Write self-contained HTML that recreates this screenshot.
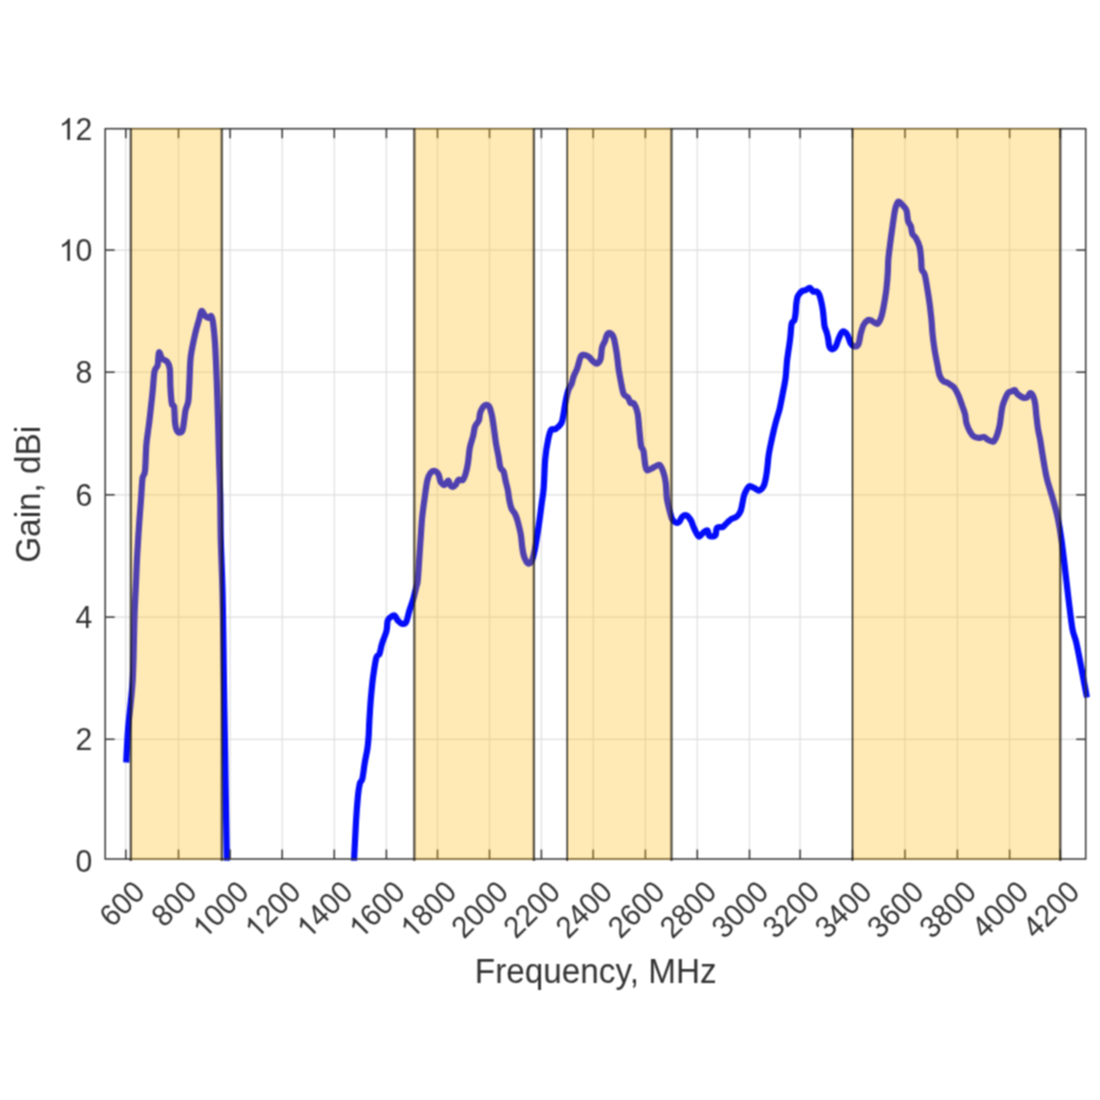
<!DOCTYPE html>
<html lang="en"><head><meta charset="utf-8"><title>Gain vs Frequency</title>
<style>html,body{margin:0;padding:0;background:#fff}body{width:1100px;height:1100px;overflow:hidden}svg{display:block}text{font-family:"Liberation Sans",sans-serif;fill:#333333}</style></head><body>
<svg width="1100" height="1100" viewBox="0 0 1100 1100">
<defs><clipPath id="ax"><rect x="105.2" y="128.7" width="984.5" height="732.0999999999999"/></clipPath><filter id="soft" x="0" y="0" width="100%" height="100%" filterUnits="objectBoundingBox" color-interpolation-filters="sRGB"><feConvolveMatrix order="3" kernelMatrix="1 2 1 2 4 2 1 2 1" divisor="16" edgeMode="duplicate" preserveAlpha="false"/></filter></defs>
<g filter="url(#soft)">
<rect width="1100" height="1100" fill="#ffffff"/>
<g stroke="#dedede" stroke-width="1.2" fill="none">
<line x1="125.8" y1="128.7" x2="125.8" y2="859.0"/>
<line x1="178.5" y1="128.7" x2="178.5" y2="859.0"/>
<line x1="230.1" y1="128.7" x2="230.1" y2="859.0"/>
<line x1="282.2" y1="128.7" x2="282.2" y2="859.0"/>
<line x1="334.3" y1="128.7" x2="334.3" y2="859.0"/>
<line x1="386.4" y1="128.7" x2="386.4" y2="859.0"/>
<line x1="437.5" y1="128.7" x2="437.5" y2="859.0"/>
<line x1="489.5" y1="128.7" x2="489.5" y2="859.0"/>
<line x1="541.4" y1="128.7" x2="541.4" y2="859.0"/>
<line x1="593.2" y1="128.7" x2="593.2" y2="859.0"/>
<line x1="645.4" y1="128.7" x2="645.4" y2="859.0"/>
<line x1="697.3" y1="128.7" x2="697.3" y2="859.0"/>
<line x1="749.5" y1="128.7" x2="749.5" y2="859.0"/>
<line x1="800.1" y1="128.7" x2="800.1" y2="859.0"/>
<line x1="852.5" y1="128.7" x2="852.5" y2="859.0"/>
<line x1="905.0" y1="128.7" x2="905.0" y2="859.0"/>
<line x1="957.4" y1="128.7" x2="957.4" y2="859.0"/>
<line x1="1009.6" y1="128.7" x2="1009.6" y2="859.0"/>
<line x1="1060.3" y1="128.7" x2="1060.3" y2="859.0"/>
<line x1="105.2" y1="250.1" x2="1085.7" y2="250.1"/>
<line x1="105.2" y1="372.2" x2="1085.7" y2="372.2"/>
<line x1="105.2" y1="494.8" x2="1085.7" y2="494.8"/>
<line x1="105.2" y1="617.1" x2="1085.7" y2="617.1"/>
<line x1="105.2" y1="739.3" x2="1085.7" y2="739.3"/>
</g>
<g clip-path="url(#ax)" fill="none" stroke="#040dfa" stroke-width="6.2" stroke-linejoin="round" stroke-linecap="butt">
<path d="M126.2 762.5C126.5 757.1 127.2 740.4 128.0 730.0C128.8 719.6 130.2 708.3 131.0 700.0C131.8 691.7 132.3 687.6 132.7 680.0C133.1 672.4 133.3 665.2 133.6 654.5C133.9 643.8 134.1 628.8 134.5 616.0C134.9 603.2 135.8 588.2 136.2 578.0C136.6 567.8 136.7 564.4 137.2 555.0C137.7 545.6 138.6 531.6 139.3 521.8C140.0 512.0 140.7 503.6 141.2 496.4C141.7 489.2 141.9 482.8 142.5 478.5C143.1 474.2 144.4 476.4 145.0 470.9C145.6 465.4 145.8 452.3 146.3 445.5C146.8 438.7 147.7 434.2 148.2 430.0C148.7 425.8 148.8 426.4 149.5 420.0C150.2 413.6 151.8 399.9 152.6 391.8C153.4 383.7 153.7 376.0 154.5 371.5C155.3 367.0 156.9 368.2 157.7 365.0C158.4 361.8 158.2 353.4 159.0 352.4C159.8 351.3 160.8 357.1 162.2 358.7C163.6 360.3 166.0 360.2 167.3 361.9C168.6 363.6 169.3 364.8 169.8 368.9C170.3 373.0 170.1 380.9 170.4 386.7C170.7 392.5 171.2 400.2 171.8 403.5C172.4 406.8 173.6 404.7 174.0 406.2C174.4 407.7 174.3 409.8 174.5 412.7C174.7 415.6 174.7 420.7 175.1 423.6C175.5 426.5 176.0 428.7 176.7 430.2C177.4 431.7 178.5 432.6 179.5 432.6C180.5 432.6 181.7 432.1 182.5 430.2C183.3 428.2 183.6 424.2 184.1 420.9C184.6 417.6 184.8 413.7 185.5 410.5C186.2 407.3 187.6 405.1 188.2 401.8C188.8 398.5 188.8 394.9 189.0 390.9C189.2 386.9 189.3 383.8 189.6 378.0C189.9 372.2 189.9 363.6 190.8 356.2C191.8 348.8 193.9 339.4 195.3 333.3C196.7 327.2 198.1 323.0 199.1 319.3C200.1 315.6 200.6 311.6 201.6 311.0C202.6 310.4 203.6 314.3 204.8 315.5C206.0 316.7 207.5 317.9 208.6 318.0C209.7 318.1 210.4 315.2 211.2 316.1C211.9 317.0 212.5 318.6 213.1 323.1C213.7 327.6 214.4 333.5 215.0 343.0C215.6 352.5 216.2 367.2 216.7 380.0C217.2 392.8 217.6 407.0 218.0 420.0C218.4 433.0 218.6 445.3 219.0 458.0C219.4 470.7 219.9 482.3 220.2 496.0C220.5 509.7 220.4 524.2 220.8 540.0C221.2 555.8 222.1 574.0 222.5 591.0C222.9 608.0 223.2 627.2 223.4 642.0C223.6 656.8 223.7 664.5 223.9 680.0C224.1 695.5 224.5 718.3 224.8 735.0C225.1 751.7 225.2 758.7 225.5 780.0C225.8 801.3 226.7 849.2 226.9 863.0"/>
<path d="M353.9 863.0C353.9 862.3 353.8 865.6 354.1 858.7C354.5 851.8 355.4 832.2 356.0 821.8C356.6 811.4 357.3 802.8 357.9 796.4C358.5 790.0 359.1 786.6 359.8 783.6C360.6 780.6 361.5 782.1 362.4 778.5C363.2 774.9 364.0 767.1 364.9 762.0C365.8 756.9 366.9 752.5 367.5 748.0C368.1 743.5 368.4 740.0 368.7 735.3C369.0 730.6 369.0 726.8 369.4 720.0C369.8 713.2 370.5 701.9 371.2 694.5C371.9 687.1 372.4 681.6 373.3 675.5C374.2 669.4 375.3 661.2 376.3 657.6C377.3 654.0 378.6 656.1 379.5 653.8C380.4 651.5 380.8 647.4 382.0 643.6C383.2 639.8 385.6 634.7 386.5 630.9C387.4 627.1 387.0 623.0 387.7 620.7C388.4 618.4 389.7 617.8 390.9 616.9C392.1 616.0 393.5 615.0 394.7 615.6C395.9 616.2 396.6 619.3 397.9 620.7C399.2 622.1 401.0 623.7 402.4 623.9C403.8 624.1 405.0 624.2 406.2 622.0C407.4 619.8 408.2 614.3 409.4 610.5C410.6 606.7 412.0 603.1 413.2 599.1C414.4 595.1 415.6 589.6 416.4 586.4C417.2 583.2 417.3 585.5 417.8 580.0C418.3 574.5 419.1 561.2 419.6 553.6C420.1 546.0 420.5 540.6 420.9 534.5C421.3 528.4 421.6 522.8 422.2 517.0C422.8 511.2 423.5 506.1 424.4 500.0C425.2 493.9 426.3 485.0 427.3 480.5C428.3 476.0 429.2 474.5 430.5 472.9C431.8 471.3 433.5 470.7 434.9 471.0C436.3 471.3 437.8 473.0 438.7 474.8C439.6 476.6 439.6 480.1 440.6 481.8C441.6 483.5 443.2 485.2 444.5 485.0C445.8 484.8 447.4 480.5 448.3 480.5C449.2 480.5 449.5 483.9 450.2 485.0C450.9 486.1 451.8 487.0 452.7 486.9C453.6 486.8 454.9 485.6 455.9 484.4C456.9 483.2 457.3 480.6 458.5 479.9C459.7 479.1 461.7 480.8 462.9 479.9C464.1 478.9 464.6 477.1 465.5 474.2C466.4 471.3 467.3 467.1 468.0 462.7C468.7 458.2 469.0 451.9 469.9 447.5C470.8 443.1 472.2 439.5 473.1 436.0C474.0 432.5 474.1 429.1 475.0 426.5C475.9 423.9 477.9 422.9 478.8 420.7C479.7 418.5 479.4 415.4 480.1 413.1C480.9 410.8 482.2 408.1 483.3 406.7C484.4 405.3 485.4 404.7 486.5 404.8C487.6 404.9 488.7 405.4 489.6 407.4C490.6 409.4 491.4 413.2 492.2 416.9C492.9 420.6 493.5 425.2 494.1 429.6C494.7 434.1 495.3 439.1 496.0 443.6C496.7 448.1 497.8 452.4 498.5 456.4C499.2 460.4 499.6 465.3 500.5 467.8C501.4 470.3 502.8 469.5 503.6 471.6C504.4 473.7 504.8 477.4 505.5 480.5C506.2 483.6 507.2 486.9 507.8 490.0C508.4 493.1 508.6 496.2 509.2 499.3C509.8 502.4 510.6 506.4 511.6 508.8C512.6 511.2 514.1 512.0 515.1 514.0C516.1 516.0 516.7 517.6 517.6 521.0C518.5 524.4 520.0 530.3 520.8 534.5C521.5 538.7 521.6 542.4 522.1 546.0C522.6 549.6 523.0 553.3 524.0 556.2C525.0 559.1 526.5 562.4 527.8 563.2C529.1 564.1 530.5 563.1 531.6 561.3C532.7 559.5 533.4 556.2 534.2 552.4C535.1 548.6 535.9 543.5 536.7 538.4C537.6 533.3 538.4 527.8 539.3 521.8C540.1 515.8 541.1 508.3 541.8 502.7C542.5 497.1 543.1 495.4 543.7 488.0C544.3 480.6 544.5 466.3 545.3 458.2C546.0 450.1 547.2 444.0 548.2 439.3C549.2 434.6 549.9 431.5 551.1 429.8C552.3 428.1 553.8 430.2 555.5 429.1C557.2 428.0 559.9 426.0 561.3 423.3C562.7 420.6 563.0 416.7 563.7 413.1C564.4 409.5 564.8 405.4 565.6 401.5C566.4 397.6 567.5 392.7 568.5 389.8C569.5 386.9 570.6 386.2 571.5 384.0C572.4 381.8 572.6 379.4 573.6 376.7C574.6 374.0 576.2 371.1 577.3 368.0C578.4 364.9 579.3 360.0 580.2 357.8C581.1 355.6 581.4 355.1 582.7 354.9C584.0 354.7 586.4 355.3 588.2 356.4C590.0 357.5 591.8 360.3 593.3 361.5C594.8 362.7 595.7 364.0 596.9 363.6C598.1 363.2 599.6 362.0 600.5 359.3C601.4 356.6 601.3 350.6 602.0 347.6C602.7 344.6 604.0 343.3 604.9 341.1C605.8 338.9 606.2 335.8 607.1 334.5C608.0 333.2 608.9 332.6 610.0 333.1C611.1 333.6 612.5 334.4 613.6 337.5C614.7 340.6 615.6 346.7 616.5 352.0C617.4 357.3 617.9 363.9 618.7 369.5C619.6 375.1 620.8 381.4 621.6 385.5C622.5 389.6 622.7 392.1 623.8 394.2C624.9 396.2 627.1 396.4 628.2 397.8C629.3 399.2 629.4 401.9 630.4 402.9C631.4 403.9 632.8 401.9 634.0 403.6C635.2 405.3 636.7 408.6 637.6 413.1C638.5 417.6 638.8 425.0 639.4 430.5C640.0 436.0 640.4 442.6 641.1 446.0C641.8 449.4 642.8 447.8 643.5 451.0C644.2 454.2 644.6 462.1 645.3 465.3C646.0 468.5 646.1 470.0 647.5 470.4C648.9 470.8 651.7 468.3 653.7 467.4C655.7 466.5 657.9 464.2 659.5 464.9C661.1 465.6 662.2 468.9 663.2 471.8C664.2 474.7 665.1 478.1 665.7 482.5C666.3 486.9 666.3 494.1 666.9 498.5C667.5 502.9 668.2 505.3 669.1 508.7C670.0 512.1 670.9 516.6 672.0 518.9C673.1 521.2 674.4 522.0 675.6 522.5C676.8 523.0 678.2 522.8 679.3 521.8C680.4 520.8 681.0 517.8 682.2 516.7C683.4 515.6 685.0 514.7 686.5 515.3C688.0 515.9 689.7 518.3 690.9 520.4C692.1 522.5 692.7 525.2 693.8 527.6C694.9 530.0 696.5 533.4 697.5 534.9C698.5 536.4 698.5 536.9 699.6 536.4C700.7 535.9 702.7 533.0 704.0 532.0C705.3 531.0 706.8 529.9 707.6 530.5C708.5 531.1 708.2 534.6 709.1 535.6C710.0 536.6 711.6 536.5 712.7 536.4C713.8 536.3 714.9 536.4 715.6 534.9C716.3 533.4 715.9 528.9 717.1 527.6C718.3 526.3 721.2 527.8 722.9 526.9C724.6 526.0 725.8 523.8 727.3 522.5C728.8 521.2 730.0 519.9 731.6 518.9C733.2 517.9 735.2 517.9 736.7 516.7C738.2 515.5 739.4 513.9 740.4 511.6C741.4 509.3 741.9 505.6 742.5 502.9C743.1 500.2 743.3 497.9 744.0 495.6C744.7 493.3 745.9 490.7 746.9 489.1C747.9 487.5 748.5 486.3 749.8 486.2C751.1 486.1 753.3 487.7 754.9 488.4C756.5 489.1 757.8 490.9 759.3 490.5C760.8 490.1 762.5 488.2 763.6 486.2C764.7 484.1 765.2 481.2 765.8 478.2C766.4 475.2 766.8 471.9 767.3 468.0C767.8 464.1 768.1 459.0 768.7 454.9C769.3 450.8 770.0 447.4 770.9 443.3C771.8 439.2 772.9 434.1 773.8 430.2C774.7 426.3 775.4 423.7 776.4 420.0C777.4 416.3 778.8 412.6 779.8 408.2C780.8 403.8 781.7 398.7 782.7 393.6C783.7 388.5 784.9 383.2 785.6 377.6C786.3 372.0 786.4 366.6 787.1 360.2C787.9 353.8 789.5 344.2 790.1 339.0C790.8 333.8 790.7 331.8 791.0 329.1C791.3 326.4 791.3 324.3 791.9 322.8C792.5 321.3 793.8 321.9 794.4 320.2C795.0 318.5 795.3 315.3 795.6 312.7C795.9 310.1 795.9 307.0 796.2 304.5C796.5 302.0 796.8 299.3 797.3 297.5C797.8 295.7 798.7 294.7 799.5 293.6C800.3 292.5 801.2 291.6 802.2 291.0C803.2 290.4 804.2 290.7 805.5 290.2C806.8 289.7 808.5 287.6 809.8 287.8C811.1 288.0 812.0 290.9 813.1 291.5C814.2 292.1 815.4 290.9 816.4 291.3C817.4 291.8 818.3 292.4 819.1 294.2C819.9 295.9 820.7 299.1 821.3 301.8C821.9 304.5 822.5 307.8 822.9 310.5C823.3 313.2 823.4 315.6 823.7 318.2C824.0 320.8 824.1 324.0 824.6 326.4C825.1 328.8 826.1 330.4 826.7 332.5C827.3 334.6 827.8 336.6 828.2 338.9C828.6 341.2 828.6 344.7 829.3 346.4C830.0 348.1 831.1 349.3 832.2 349.3C833.3 349.3 834.7 348.2 835.8 346.4C836.9 344.6 837.7 340.7 838.7 338.4C839.7 336.1 840.6 333.6 841.6 332.5C842.6 331.4 843.5 331.3 844.5 331.8C845.5 332.3 846.7 333.7 847.7 335.5C848.7 337.3 849.4 340.9 850.4 342.7C851.4 344.5 852.7 346.1 854.0 346.4C855.3 346.6 857.3 346.3 858.4 344.2C859.5 342.1 859.8 337.2 860.6 334.0C861.5 330.8 862.4 327.3 863.5 325.0C864.6 322.7 866.3 321.2 867.5 320.4C868.7 319.6 869.6 319.9 870.7 320.2C871.8 320.5 873.0 321.8 874.2 322.4C875.4 323.0 876.6 324.6 877.8 323.6C879.0 322.6 880.3 320.0 881.4 316.6C882.5 313.2 883.4 308.1 884.2 303.5C885.0 298.9 885.8 294.2 886.4 289.0C887.0 283.8 887.5 277.6 887.8 272.5C888.1 267.4 887.9 263.7 888.4 258.5C888.9 253.3 889.8 246.7 890.5 241.1C891.2 235.5 892.0 230.2 892.7 225.1C893.4 220.0 894.2 214.1 894.9 210.5C895.6 206.9 896.4 204.8 897.1 203.3C897.8 201.9 898.3 201.4 899.3 201.8C900.3 202.2 901.7 204.1 902.9 205.5C904.1 206.9 905.6 208.0 906.5 210.5C907.4 213.0 907.3 218.0 908.0 220.7C908.7 223.4 910.2 224.3 910.9 226.5C911.6 228.7 911.5 231.9 912.4 233.8C913.2 235.8 914.8 236.0 916.0 238.2C917.2 240.4 918.8 243.5 919.6 246.9C920.5 250.3 920.7 254.7 921.1 258.5C921.5 262.3 921.2 266.8 921.8 269.5C922.4 272.2 923.7 271.0 924.7 274.5C925.7 278.0 926.8 285.4 927.6 290.5C928.5 295.6 929.2 300.4 929.8 305.1C930.4 309.9 930.9 314.3 931.4 319.0C931.9 323.7 932.0 328.5 932.5 333.5C933.0 338.5 933.7 343.8 934.5 349.1C935.3 354.4 936.6 360.7 937.5 365.1C938.4 369.5 938.6 372.6 939.6 375.3C940.6 378.0 941.8 379.8 943.3 381.1C944.8 382.4 946.6 382.2 948.4 383.3C950.2 384.4 952.5 385.6 954.2 387.6C955.9 389.7 957.2 392.6 958.5 395.6C959.8 398.6 961.1 402.7 962.2 405.8C963.3 408.9 964.4 411.6 965.1 414.5C965.8 417.4 965.6 420.4 966.5 423.3C967.4 426.2 969.0 429.8 970.2 432.0C971.4 434.2 972.3 435.4 973.8 436.4C975.2 437.4 977.2 437.7 978.9 437.8C980.6 437.9 982.4 436.7 984.0 437.1C985.6 437.5 986.8 439.3 988.4 440.0C990.0 440.7 992.0 442.4 993.5 441.5C995.0 440.6 996.1 437.7 997.1 434.9C998.1 432.1 999.2 427.7 999.8 424.7C1000.4 421.7 1000.3 420.1 1000.8 417.0C1001.2 413.9 1001.8 409.3 1002.5 406.3C1003.2 403.3 1004.0 401.3 1005.0 399.0C1006.0 396.7 1007.1 394.0 1008.3 392.7C1009.4 391.4 1010.8 391.7 1011.9 391.3C1013.0 390.9 1013.9 389.8 1014.8 390.2C1015.7 390.6 1016.1 392.7 1017.4 393.9C1018.7 395.1 1021.2 396.9 1022.8 397.5C1024.4 398.1 1026.0 397.9 1027.2 397.2C1028.4 396.5 1029.1 393.3 1030.1 393.2C1031.1 393.1 1032.6 395.0 1033.4 396.8C1034.2 398.6 1034.7 401.1 1035.2 404.1C1035.7 407.1 1035.8 410.8 1036.3 415.0C1036.8 419.2 1037.4 425.2 1038.1 429.5C1038.8 433.8 1039.6 436.3 1040.3 440.5C1041.0 444.7 1041.7 449.6 1042.5 454.5C1043.3 459.4 1044.3 465.4 1045.1 469.8C1045.9 474.2 1046.1 475.8 1047.5 481.0C1048.9 486.2 1051.7 494.5 1053.4 500.9C1055.2 507.2 1056.7 512.7 1058.0 519.1C1059.3 525.5 1060.3 531.5 1061.4 539.5C1062.5 547.5 1063.7 557.3 1064.8 566.8C1065.9 576.3 1067.0 586.2 1068.2 596.4C1069.5 606.6 1071.0 620.6 1072.3 628.2C1073.6 635.8 1074.7 635.8 1076.1 641.8C1077.5 647.8 1079.1 656.2 1080.7 664.5C1082.3 672.8 1084.8 686.3 1085.9 691.8C1087.0 697.3 1087.0 696.5 1087.2 697.5"/>
</g>
<g stroke="#333333" stroke-width="1.5" fill="none">
<rect x="105.2" y="128.7" width="980.5" height="730.3"/>
<line x1="125.8" y1="859.0" x2="125.8" y2="849.5"/><line x1="125.8" y1="128.7" x2="125.8" y2="138.2"/>
<line x1="178.5" y1="859.0" x2="178.5" y2="849.5"/><line x1="178.5" y1="128.7" x2="178.5" y2="138.2"/>
<line x1="230.1" y1="859.0" x2="230.1" y2="849.5"/><line x1="230.1" y1="128.7" x2="230.1" y2="138.2"/>
<line x1="282.2" y1="859.0" x2="282.2" y2="849.5"/><line x1="282.2" y1="128.7" x2="282.2" y2="138.2"/>
<line x1="334.3" y1="859.0" x2="334.3" y2="849.5"/><line x1="334.3" y1="128.7" x2="334.3" y2="138.2"/>
<line x1="386.4" y1="859.0" x2="386.4" y2="849.5"/><line x1="386.4" y1="128.7" x2="386.4" y2="138.2"/>
<line x1="437.5" y1="859.0" x2="437.5" y2="849.5"/><line x1="437.5" y1="128.7" x2="437.5" y2="138.2"/>
<line x1="489.5" y1="859.0" x2="489.5" y2="849.5"/><line x1="489.5" y1="128.7" x2="489.5" y2="138.2"/>
<line x1="541.4" y1="859.0" x2="541.4" y2="849.5"/><line x1="541.4" y1="128.7" x2="541.4" y2="138.2"/>
<line x1="593.2" y1="859.0" x2="593.2" y2="849.5"/><line x1="593.2" y1="128.7" x2="593.2" y2="138.2"/>
<line x1="645.4" y1="859.0" x2="645.4" y2="849.5"/><line x1="645.4" y1="128.7" x2="645.4" y2="138.2"/>
<line x1="697.3" y1="859.0" x2="697.3" y2="849.5"/><line x1="697.3" y1="128.7" x2="697.3" y2="138.2"/>
<line x1="749.5" y1="859.0" x2="749.5" y2="849.5"/><line x1="749.5" y1="128.7" x2="749.5" y2="138.2"/>
<line x1="800.1" y1="859.0" x2="800.1" y2="849.5"/><line x1="800.1" y1="128.7" x2="800.1" y2="138.2"/>
<line x1="852.5" y1="859.0" x2="852.5" y2="849.5"/><line x1="852.5" y1="128.7" x2="852.5" y2="138.2"/>
<line x1="905.0" y1="859.0" x2="905.0" y2="849.5"/><line x1="905.0" y1="128.7" x2="905.0" y2="138.2"/>
<line x1="957.4" y1="859.0" x2="957.4" y2="849.5"/><line x1="957.4" y1="128.7" x2="957.4" y2="138.2"/>
<line x1="1009.6" y1="859.0" x2="1009.6" y2="849.5"/><line x1="1009.6" y1="128.7" x2="1009.6" y2="138.2"/>
<line x1="1060.3" y1="859.0" x2="1060.3" y2="849.5"/><line x1="1060.3" y1="128.7" x2="1060.3" y2="138.2"/>
<line x1="105.2" y1="250.1" x2="114.7" y2="250.1"/><line x1="1085.7" y1="250.1" x2="1076.2" y2="250.1"/>
<line x1="105.2" y1="372.2" x2="114.7" y2="372.2"/><line x1="1085.7" y1="372.2" x2="1076.2" y2="372.2"/>
<line x1="105.2" y1="494.8" x2="114.7" y2="494.8"/><line x1="1085.7" y1="494.8" x2="1076.2" y2="494.8"/>
<line x1="105.2" y1="617.1" x2="114.7" y2="617.1"/><line x1="1085.7" y1="617.1" x2="1076.2" y2="617.1"/>
<line x1="105.2" y1="739.3" x2="114.7" y2="739.3"/><line x1="1085.7" y1="739.3" x2="1076.2" y2="739.3"/>
</g>
<rect x="130.8" y="128.1" width="91.0" height="731.9" fill="rgba(255,182,8,0.30)"/>
<line x1="130.8" y1="128.1" x2="130.8" y2="861.0" stroke="rgba(30,26,16,0.74)" stroke-width="2.3"/>
<line x1="221.8" y1="128.1" x2="221.8" y2="861.0" stroke="rgba(30,26,16,0.74)" stroke-width="2.3"/>
<rect x="414.3" y="128.1" width="119.6" height="731.9" fill="rgba(255,182,8,0.30)"/>
<line x1="414.3" y1="128.1" x2="414.3" y2="861.0" stroke="rgba(30,26,16,0.74)" stroke-width="2.3"/>
<line x1="533.9" y1="128.1" x2="533.9" y2="861.0" stroke="rgba(30,26,16,0.74)" stroke-width="2.3"/>
<rect x="567.2" y="128.1" width="104.3" height="731.9" fill="rgba(255,182,8,0.30)"/>
<line x1="567.2" y1="128.1" x2="567.2" y2="861.0" stroke="rgba(0,0,0,1)" stroke-width="1.25"/>
<line x1="671.5" y1="128.1" x2="671.5" y2="861.0" stroke="rgba(30,26,16,0.74)" stroke-width="2.3"/>
<rect x="852.5" y="128.1" width="207.8" height="731.9" fill="rgba(255,182,8,0.30)"/>
<line x1="852.5" y1="128.1" x2="852.5" y2="861.0" stroke="rgba(0,0,0,1)" stroke-width="1.25"/>
<line x1="1060.3" y1="128.1" x2="1060.3" y2="861.0" stroke="rgba(30,26,16,0.74)" stroke-width="2.3"/>
<g font-size="30.2" text-anchor="end">
<g transform="translate(92.3,0)"><path fill="#333333" d="M763 0H583V1147Q518 1085 412.5 1023T223 930V1104Q374 1175 487 1276T647 1472H763Z" transform="translate(-33.59,139.71) scale(0.01475,-0.01475)"/><text transform="translate(0,139.71) scale(1,1.04)">2</text></g>
<g transform="translate(92.3,0)"><path fill="#333333" d="M763 0H583V1147Q518 1085 412.5 1023T223 930V1104Q374 1175 487 1276T647 1472H763Z" transform="translate(-33.59,261.01) scale(0.01475,-0.01475)"/><text transform="translate(0,261.01) scale(1,1.04)">0</text></g>
<g transform="translate(92.3,0)"><text transform="translate(0,383.11) scale(1,1.04)">8</text></g>
<g transform="translate(92.3,0)"><text transform="translate(0,505.91) scale(1,1.04)">6</text></g>
<g transform="translate(92.3,0)"><text transform="translate(0,628.21) scale(1,1.04)">4</text></g>
<g transform="translate(92.3,0)"><text transform="translate(0,750.41) scale(1,1.04)">2</text></g>
<g transform="translate(92.3,0)"><text transform="translate(0,872.21) scale(1,1.04)">0</text></g>
</g>
<g font-size="29.2" text-anchor="end">
<g transform="translate(139.1,886.5) rotate(-45)"><text transform="translate(0,10.45) scale(1,1.04)">600</text></g>
<g transform="translate(191.1,886.5) rotate(-45)"><text transform="translate(0,10.45) scale(1,1.04)">800</text></g>
<g transform="translate(243.1,886.5) rotate(-45)"><path fill="#333333" d="M763 0H583V1147Q518 1085 412.5 1023T223 930V1104Q374 1175 487 1276T647 1472H763Z" transform="translate(-64.96,10.45) scale(0.01426,-0.01426)"/><text transform="translate(0,10.45) scale(1,1.04)">000</text></g>
<g transform="translate(295.1,886.5) rotate(-45)"><path fill="#333333" d="M763 0H583V1147Q518 1085 412.5 1023T223 930V1104Q374 1175 487 1276T647 1472H763Z" transform="translate(-64.96,10.45) scale(0.01426,-0.01426)"/><text transform="translate(0,10.45) scale(1,1.04)">200</text></g>
<g transform="translate(347.1,886.5) rotate(-45)"><path fill="#333333" d="M763 0H583V1147Q518 1085 412.5 1023T223 930V1104Q374 1175 487 1276T647 1472H763Z" transform="translate(-64.96,10.45) scale(0.01426,-0.01426)"/><text transform="translate(0,10.45) scale(1,1.04)">400</text></g>
<g transform="translate(399.4,886.5) rotate(-45)"><path fill="#333333" d="M763 0H583V1147Q518 1085 412.5 1023T223 930V1104Q374 1175 487 1276T647 1472H763Z" transform="translate(-64.96,10.45) scale(0.01426,-0.01426)"/><text transform="translate(0,10.45) scale(1,1.04)">600</text></g>
<g transform="translate(450.8,886.5) rotate(-45)"><path fill="#333333" d="M763 0H583V1147Q518 1085 412.5 1023T223 930V1104Q374 1175 487 1276T647 1472H763Z" transform="translate(-64.96,10.45) scale(0.01426,-0.01426)"/><text transform="translate(0,10.45) scale(1,1.04)">800</text></g>
<g transform="translate(502.5,886.5) rotate(-45)"><text transform="translate(0,10.45) scale(1,1.04)">2000</text></g>
<g transform="translate(554.6,886.5) rotate(-45)"><text transform="translate(0,10.45) scale(1,1.04)">2200</text></g>
<g transform="translate(606.7,886.5) rotate(-45)"><text transform="translate(0,10.45) scale(1,1.04)">2400</text></g>
<g transform="translate(659.0,886.5) rotate(-45)"><text transform="translate(0,10.45) scale(1,1.04)">2600</text></g>
<g transform="translate(710.9,886.5) rotate(-45)"><text transform="translate(0,10.45) scale(1,1.04)">2800</text></g>
<g transform="translate(762.8,886.5) rotate(-45)"><text transform="translate(0,10.45) scale(1,1.04)">3000</text></g>
<g transform="translate(813.8,886.5) rotate(-45)"><text transform="translate(0,10.45) scale(1,1.04)">3200</text></g>
<g transform="translate(866.0,886.5) rotate(-45)"><text transform="translate(0,10.45) scale(1,1.04)">3400</text></g>
<g transform="translate(918.2,886.5) rotate(-45)"><text transform="translate(0,10.45) scale(1,1.04)">3600</text></g>
<g transform="translate(970.5,886.5) rotate(-45)"><text transform="translate(0,10.45) scale(1,1.04)">3800</text></g>
<g transform="translate(1022.8,886.5) rotate(-45)"><text transform="translate(0,10.45) scale(1,1.04)">4000</text></g>
<g transform="translate(1073.8,886.5) rotate(-45)"><text transform="translate(0,10.45) scale(1,1.04)">4200</text></g>
</g>
<text font-size="33.3" text-anchor="middle" transform="translate(595.7,983.2) scale(1,1.04)">Frequency, MHz</text>
<text font-size="33.3" text-anchor="middle" transform="translate(39.6,494.3) rotate(-90) scale(1,1.04)">Gain, dBi</text>
</g></svg></body></html>
